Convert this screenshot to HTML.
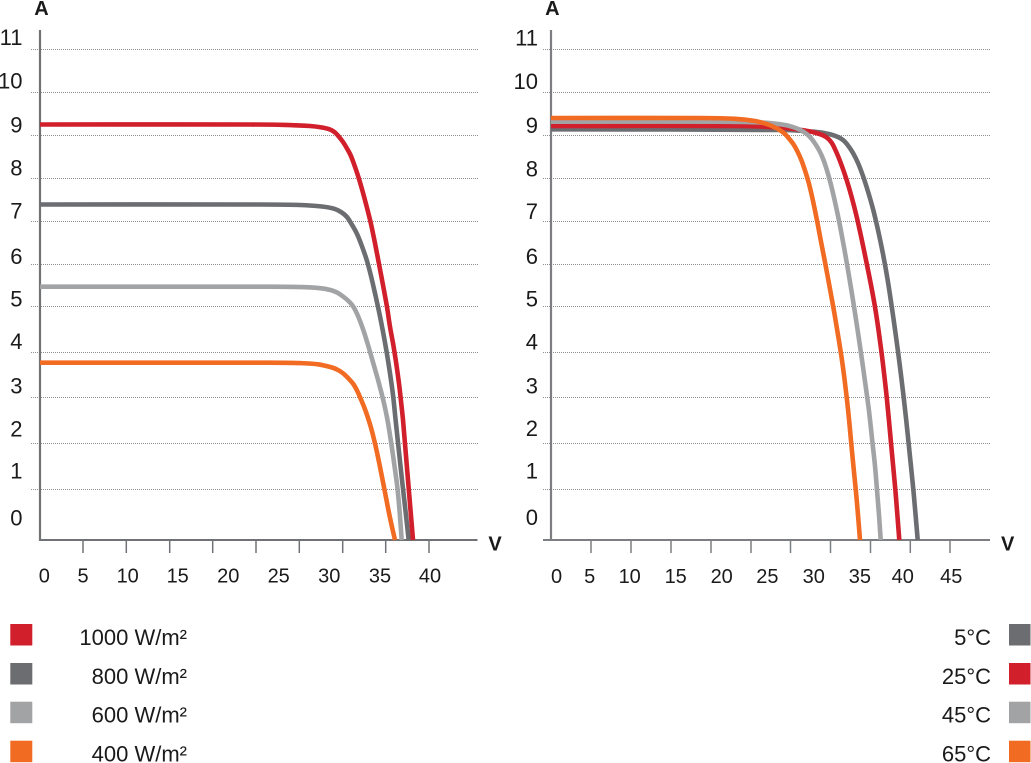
<!DOCTYPE html>
<html>
<head>
<meta charset="utf-8">
<style>
html,body{margin:0;padding:0;background:#fff;}
svg{display:block;}
text{font-family:"Liberation Sans",sans-serif;fill:#1a1a1a;}
.yl{font-size:22px;text-anchor:end;}
.xl{font-size:20px;text-anchor:middle;}
.ax{font-size:20px;font-weight:bold;text-anchor:middle;}
.lg{font-size:22px;text-anchor:end;}
.grid{stroke:#8e8e8e;stroke-width:1;stroke-dasharray:1 1;fill:none;}
.curve{fill:none;stroke-width:4.6;stroke-linejoin:round;stroke-linecap:butt;}
</style>
</head>
<body>
<svg width="1031" height="763" viewBox="0 0 1031 763" xmlns="http://www.w3.org/2000/svg">
<rect width="1031" height="763" fill="#fff"/>

<!-- LEFT CHART GRID -->
<g class="grid">
<line x1="31" x2="478" y1="49.5" y2="49.5"/>
<line x1="31" x2="478" y1="92.5" y2="92.5"/>
<line x1="31" x2="478" y1="135.5" y2="135.5"/>
<line x1="31" x2="478" y1="178.5" y2="178.5"/>
<line x1="31" x2="478" y1="221.5" y2="221.5"/>
<line x1="31" x2="478" y1="264.5" y2="264.5"/>
<line x1="31" x2="478" y1="306.5" y2="306.5"/>
<line x1="31" x2="478" y1="352.5" y2="352.5"/>
<line x1="31" x2="478" y1="397.5" y2="397.5"/>
<line x1="31" x2="478" y1="443.5" y2="443.5"/>
<line x1="31" x2="478" y1="489.5" y2="489.5"/>
</g>

<!-- RIGHT CHART GRID -->
<g class="grid">
<line x1="543" x2="990" y1="49.5" y2="49.5"/>
<line x1="543" x2="990" y1="92.5" y2="92.5"/>
<line x1="543" x2="990" y1="135.5" y2="135.5"/>
<line x1="543" x2="990" y1="178.5" y2="178.5"/>
<line x1="543" x2="990" y1="221.5" y2="221.5"/>
<line x1="543" x2="990" y1="264.5" y2="264.5"/>
<line x1="543" x2="990" y1="306.5" y2="306.5"/>
<line x1="543" x2="990" y1="352.5" y2="352.5"/>
<line x1="543" x2="990" y1="397.5" y2="397.5"/>
<line x1="543" x2="990" y1="443.5" y2="443.5"/>
<line x1="543" x2="990" y1="489.5" y2="489.5"/>
</g>

<!-- LEFT AXES -->
<g stroke="#717275" fill="none">
<line x1="40" y1="30" x2="40" y2="541" stroke-width="2.2"/>
<line x1="39" y1="540" x2="477.5" y2="540" stroke-width="2"/>
<g stroke-width="1.5">
<line x1="83" y1="540" x2="83" y2="553"/>
<line x1="126.3" y1="540" x2="126.3" y2="553"/>
<line x1="169.7" y1="540" x2="169.7" y2="553"/>
<line x1="212.7" y1="540" x2="212.7" y2="553"/>
<line x1="256" y1="540" x2="256" y2="553"/>
<line x1="299.3" y1="540" x2="299.3" y2="553"/>
<line x1="342.7" y1="540" x2="342.7" y2="553"/>
<line x1="385.7" y1="540" x2="385.7" y2="553"/>
<line x1="429" y1="540" x2="429" y2="553"/>
</g>
</g>

<!-- RIGHT AXES -->
<g stroke="#7d7e81" fill="none">
<line x1="551" y1="30" x2="551" y2="541" stroke-width="2.2"/>
<line x1="543" y1="540" x2="990" y2="540" stroke-width="2"/>
<g stroke-width="1.5">
<line x1="591" y1="540" x2="591" y2="553"/>
<line x1="631" y1="540" x2="631" y2="553"/>
<line x1="671" y1="540" x2="671" y2="553"/>
<line x1="711" y1="540" x2="711" y2="553"/>
<line x1="751" y1="540" x2="751" y2="553"/>
<line x1="790.5" y1="540" x2="790.5" y2="553"/>
<line x1="830.5" y1="540" x2="830.5" y2="553"/>
<line x1="870.5" y1="540" x2="870.5" y2="553"/>
<line x1="910.3" y1="540" x2="910.3" y2="553"/>
<line x1="950" y1="540" x2="950" y2="553"/>
</g>
</g>

<!-- LEFT CURVES -->
<path class="curve" stroke="#f26b23" d="M40,362.7 L270,362.7 L300,363.1 L318,364.3 L332,367.5 L338,370 L343.3,373.5 L348.5,378.5 L353.3,384 L357.5,391.5 L361,399.5 L364.5,408 L367.7,417 L370.8,427 L373.8,438.5 L376.8,451.5 L379.8,466 L382.8,481 L385.8,496.5 L388.8,512 L392,527 L395,540"/>
<path class="curve" stroke="#a2a3a5" d="M40,286.7 L270,286.7 L305,287.2 L325,288.8 L336,292 L343.3,296.7 L349,301.5 L353.3,306.7 L358,316 L363.3,330 L368,345 L373.3,363.3 L377.5,378 L381.5,393 L384.5,405.5 L387.2,418.5 L389.5,432 L391.8,447 L394.5,466 L397.2,486 L399.5,510 L401.7,540"/>
<path class="curve" stroke="#6c6d71" d="M40,204.5 L260,204.5 L300,205 L322,206.5 L334,208.7 L341,212 L346.7,216.7 L351.5,224 L356.7,233.3 L361.5,245 L366.7,260 L371,276 L375,293.3 L379.3,313 L383.3,333.3 L386.8,353 L390,373.3 L393,395 L395.6,420 L398.8,450 L402,480 L405.4,510 L408.7,540"/>
<path class="curve" stroke="#d11f2b" d="M40,124.5 L250,124.5 L285,124.9 L310,126 L322,127.5 L330,129.5 L335,132.5 L339,136.8 L343,142 L347,148.5 L350.5,155 L354,164 L358.3,176.7 L362.5,191 L366.7,206.7 L371,224 L375,243.3 L379,264 L383.3,286.7 L387,307 L390,326.7 L393.5,346 L396.7,366.7 L399.3,386 L401.3,404 L403,420 L405.5,450 L408,480 L410.5,510 L413,540"/>

<!-- RIGHT CURVES -->
<path class="curve" stroke="#6c6d71" d="M551,129.3 L780,130 L815,131.8 L830,134.2 L838,137 L843.3,140.3 L848,145.5 L853,153 L858,163 L863,176 L868,191.5 L873,209 L878,230 L883,254 L887.5,279 L891.5,305 L895,329.5 L898.2,353 L901,375 L903.7,397.5 L906.2,420 L908.7,444 L911,466.5 L913.3,489.3 L915.5,514 L917.7,540"/>
<path class="curve" stroke="#d11f2b" d="M551,126 L740,126 L780,127.6 L805,130.5 L818,133.5 L826,137 L831.5,142.5 L836.5,152.5 L841.5,165 L846.5,179.5 L851.5,196.5 L856.5,216 L861.5,238.5 L866.5,262.5 L871,285 L875,307 L878.5,330 L881.6,353 L884.3,375.5 L886.8,398 L889,421 L891.1,444 L893.2,466.5 L895.3,489.3 L897.3,514 L899.3,540"/>
<path class="curve" stroke="#a2a3a5" d="M551,121.7 L720,121.7 L760,122.5 L785,125 L797,128.5 L804.7,132.5 L810,137 L815,143.5 L819.5,151 L823.5,160 L827,170.5 L830.5,183 L834,197.5 L837.5,213.5 L841,231 L844.5,250 L848,270 L851.5,291 L855,313 L858.5,336 L862,360 L865.5,385 L869,411 L872.5,443 L875,466 L877,490 L879,515 L880.7,540"/>
<path class="curve" stroke="#f26b23" d="M551,118 L700,118 L735,118.8 L755,121 L768,124.5 L777,128.5 L784.4,133.5 L789,138.5 L793.3,144 L797.5,151.5 L801.5,160.5 L805,170.5 L808.5,182 L811.7,195 L814.7,209 L817.7,224 L820.7,240 L824,257 L827.5,275.5 L831,294.5 L834.5,314 L838,335 L841.5,357 L844.5,379 L847,400 L849.3,422 L851.3,444 L853.5,467 L855.8,490 L858,515 L860,540"/>

<!-- AXIS TITLES -->
<text class="ax" x="41.5" y="15">A</text>
<text class="ax" x="552.3" y="15">A</text>
<text class="ax" x="495" y="550.7">V</text>
<text class="ax" x="1007.7" y="550.5">V</text>

<!-- LEFT Y LABELS -->
<g class="yl">
<text x="22.5" y="45">11</text>
<text x="22.5" y="88.7">10</text>
<text x="22.5" y="132.3">9</text>
<text x="22.5" y="175.7">8</text>
<text x="22.5" y="218.5">7</text>
<text x="22.5" y="264">6</text>
<text x="22.5" y="306.7">5</text>
<text x="22.5" y="349">4</text>
<text x="22.5" y="393.3">3</text>
<text x="22.5" y="436.5">2</text>
<text x="22.5" y="478.5">1</text>
<text x="22.5" y="525.3">0</text>
</g>

<!-- RIGHT Y LABELS -->
<g class="yl">
<text x="538" y="45.5">11</text>
<text x="538" y="89">10</text>
<text x="538" y="133">9</text>
<text x="538" y="176.5">8</text>
<text x="538" y="219">7</text>
<text x="538" y="264">6</text>
<text x="538" y="306.7">5</text>
<text x="538" y="349.3">4</text>
<text x="538" y="393.3">3</text>
<text x="538" y="436">2</text>
<text x="538" y="478.3">1</text>
<text x="538" y="525">0</text>
</g>

<!-- LEFT X LABELS -->
<g class="xl">
<text x="44.3" y="582.7">0</text>
<text x="83" y="582.7">5</text>
<text x="127.7" y="582.7">10</text>
<text x="177.7" y="582.7">15</text>
<text x="228.3" y="582.7">20</text>
<text x="278.7" y="582.7">25</text>
<text x="329.3" y="582.7">30</text>
<text x="380" y="582.7">35</text>
<text x="430" y="582.7">40</text>
</g>

<!-- RIGHT X LABELS -->
<g class="xl">
<text x="556.5" y="583">0</text>
<text x="589.7" y="583">5</text>
<text x="629.7" y="583">10</text>
<text x="675.7" y="583">15</text>
<text x="721.7" y="583">20</text>
<text x="767.4" y="583">25</text>
<text x="813.8" y="583">30</text>
<text x="859.9" y="583">35</text>
<text x="902.8" y="583">40</text>
<text x="951.3" y="583">45</text>
</g>

<!-- LEFT LEGEND -->
<rect x="10.3" y="624" width="22" height="21.5" fill="#d11f2b"/>
<rect x="10.3" y="663" width="22" height="21.5" fill="#6c6d71"/>
<rect x="10.3" y="701.7" width="22" height="21.5" fill="#a2a3a5"/>
<rect x="10.3" y="740.7" width="22" height="21.5" fill="#f26b23"/>
<g class="lg">
<text x="187" y="645">1000 W/m²</text>
<text x="187" y="684">800 W/m²</text>
<text x="187" y="722.5">600 W/m²</text>
<text x="187" y="761.5">400 W/m²</text>
</g>

<!-- RIGHT LEGEND -->
<rect x="1009" y="624" width="21.5" height="21.5" fill="#6c6d71"/>
<rect x="1009" y="663" width="21.5" height="21.5" fill="#d11f2b"/>
<rect x="1009" y="701.7" width="21.5" height="21.5" fill="#a2a3a5"/>
<rect x="1009" y="740.7" width="21.5" height="21.5" fill="#f26b23"/>
<g class="lg">
<text x="991" y="645">5°C</text>
<text x="991" y="684">25°C</text>
<text x="991" y="722.7">45°C</text>
<text x="991" y="761.7">65°C</text>
</g>
</svg>
<script>
(function(){
  var paths = document.querySelectorAll('path.curve');
  for (var k = 0; k < paths.length; k++) {
    var p = paths[k];
    var n = p.getAttribute('d').match(/-?\d+(\.\d+)?/g).map(Number);
    var P = [];
    for (var i = 0; i < n.length; i += 2) P.push([n[i], n[i+1]]);
    var T = [];
    for (var i = 0; i < P.length; i++) {
      var a = P[Math.max(0, i-1)], b = P[Math.min(P.length-1, i+1)];
      var dx = b[0]-a[0], dy = b[1]-a[1], l = Math.sqrt(dx*dx+dy*dy) || 1;
      T.push([dx/l, dy/l]);
    }
    var d = 'M' + P[0][0] + ',' + P[0][1];
    for (var i = 0; i < P.length-1; i++) {
      var sx = P[i+1][0]-P[i][0], sy = P[i+1][1]-P[i][1];
      var s = Math.sqrt(sx*sx+sy*sy)/3;
      d += ' C' + (P[i][0]+T[i][0]*s).toFixed(2) + ',' + (P[i][1]+T[i][1]*s).toFixed(2) +
           ' ' + (P[i+1][0]-T[i+1][0]*s).toFixed(2) + ',' + (P[i+1][1]-T[i+1][1]*s).toFixed(2) +
           ' ' + P[i+1][0] + ',' + P[i+1][1];
    }
    p.setAttribute('d', d);
  }
})();
</script>
</body>
</html>
